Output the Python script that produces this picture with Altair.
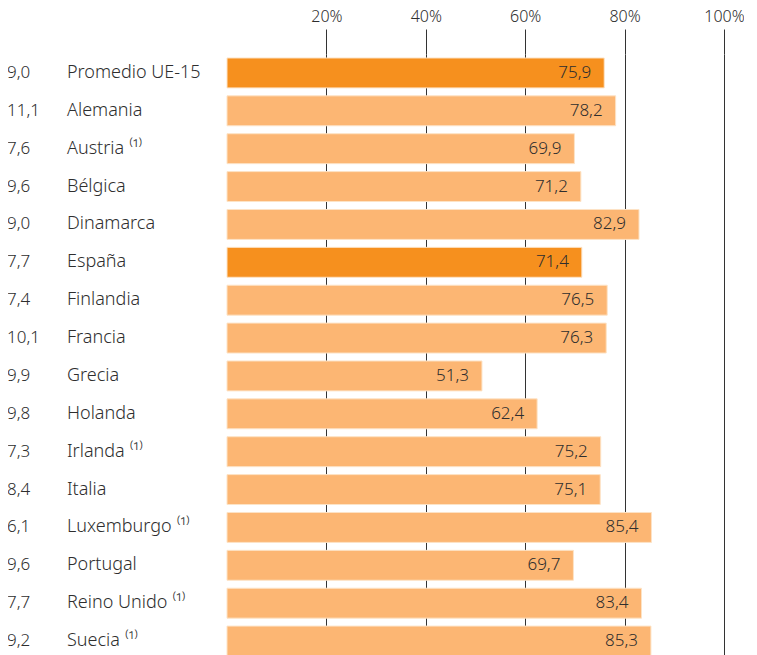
import altair as alt
import pandas as pd

names = ["Promedio UE-15", "Alemania", "Austria", "Bélgica", "Dinamarca", "España",
         "Finlandia", "Francia", "Grecia", "Holanda", "Irlanda", "Italia",
         "Luxemburgo", "Portugal", "Reino Unido", "Suecia"]
notes = ["", "", "(1)", "", "", "", "", "", "", "", "(1)", "", "(1)", "", "(1)", "(1)"]
left_values = [9.0, 11.1, 7.6, 9.6, 9.0, 7.7, 7.4, 10.1, 9.9, 9.8, 7.3, 8.4, 6.1, 9.6, 7.7, 9.2]
bar_values = [75.9, 78.2, 69.9, 71.2, 82.9, 71.4, 76.5, 76.3, 51.3, 62.4, 75.2, 75.1,
              85.4, 69.7, 83.4, 85.3]
highlight = ["Promedio UE-15", "España"]
tick_values = [20, 40, 60, 80, 100]

sup = {"(1)": " ⁽¹⁾", "": ""}
df = pd.DataFrame({
    "name": names,
    "label": [n + sup[s] for n, s in zip(names, notes)],
    "left": [f"{v:.1f}".replace(".", ",") for v in left_values],
    "value": bar_values,
    "vlabel": [f"{v:.1f}".replace(".", ",") for v in bar_values],
    "hl": ["yes" if n in highlight else "no" for n in names],
})

FONT = "Noto Sans"
WEIGHT = 300
TXT = "#2e2e2e"

y = alt.Y("name:N", sort=names, axis=None,
          scale=alt.Scale(paddingInner=0.21, paddingOuter=0.105))

bars = alt.Chart(df).mark_bar(stroke="#fde3c6", strokeWidth=1).encode(
    x=alt.X("value:Q", scale=alt.Scale(domain=[0, 100]),
            axis=alt.Axis(orient="top", values=tick_values, labelExpr="datum.value + '%'",
                          grid=True, gridColor="#333333", gridWidth=1,
                          ticks=True, tickSize=25, tickColor="#333333", tickWidth=1,
                          domain=False, labelPadding=5, labelFontSize=16,
                          labelFlush=False, labelFontWeight=WEIGHT,
                          labelColor=TXT, labelFont=FONT, title=None)),
    y=y,
    color=alt.Color("hl:N", scale=alt.Scale(domain=["yes", "no"],
                                            range=["#f6901e", "#fcb673"]), legend=None),
)

vals = alt.Chart(df).mark_text(align="right", baseline="middle", dx=-13, fontSize=17,
                               font=FONT, fontWeight=WEIGHT, color=TXT).encode(
    x="value:Q", y=y, text="vlabel:N")

namestxt = alt.Chart(df).mark_text(align="left", baseline="middle", fontSize=18,
                                   font=FONT, fontWeight=WEIGHT, color=TXT).encode(
    x=alt.value(-160), y=y, text="label:N")

lefttxt = alt.Chart(df).mark_text(align="left", baseline="middle", fontSize=17,
                                  font=FONT, fontWeight=WEIGHT, color=TXT).encode(
    x=alt.value(-220), y=y, text="left:N")

chart = alt.layer(bars, vals, namestxt, lefttxt).properties(
    width=497, height=606,
    autosize=alt.AutoSizeParams(type="none"),
    padding={"left": 219, "top": 46, "right": 20, "bottom": 0},
).configure_view(stroke=None)

chart.save("out.html", embed_options={"renderer": "svg", "actions": False})
